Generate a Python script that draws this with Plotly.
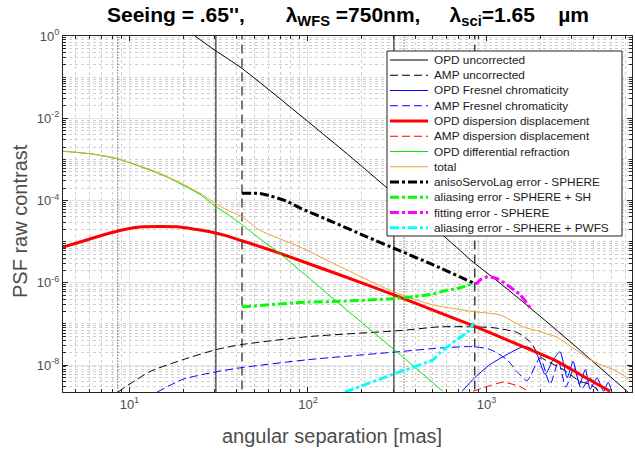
import plotly.graph_objects as go

# ---------------- data (angular separation in mas, PSF raw contrast) ----------------
sep_opd_unc = [23.3, 30.1, 42.7, 157, 270, 601, 841, 1146, 1754, 3057, 6126, 6530]
opd_unc = [1.0, 0.45, 0.163, 1.66e-3, 2.24e-4, 1.17e-5, 3.2e-6, 1.12e-6, 2.47e-7, 3.2e-8, 2.3e-9, 1.8e-9]

sep_amp_unc = [8.6, 13.0, 19.9, 30.9, 42.7, 100, 328, 549, 841, 1087, 1483, 1754, 1997, 2687, 3344, 3806, 4330]
amp_unc = [2.2e-9, 6.9e-9, 1.35e-8, 2.4e-8, 3.16e-8, 4.9e-8, 6.9e-8, 8.5e-8, 8.5e-8, 8.1e-8, 6.2e-8, 3.7e-8,
           1.6e-8, 7.8e-9, 4.0e-9, 3.4e-9, 2.3e-9]

sep_opd_fres = [730, 841, 1047, 1303, 1603, 1754, 1920, 2130, 2360, 2584, 2830, 3057, 3320, 3580, 3806, 4160,
                4530, 4800, 5030]
opd_fres = [2.3e-9, 4.5e-9, 1.03e-8, 1.8e-8, 2.8e-8, 2.6e-8, 1.78e-8, 5.9e-9, 1.35e-8, 2.1e-8, 4.9e-9, 1.23e-8,
            3.4e-9, 7.8e-9, 2.6e-9, 4.9e-9, 2.3e-9, 3.8e-9, 2.3e-9]

sep_amp_fres = [14.3, 19.9, 30.9, 42.7, 100, 319, 549, 841, 1047, 1303, 1483, 1688, 1997, 2271, 2530, 2780, 3100,
                3400, 3806, 4200]
amp_fres = [2.2e-9, 4.5e-9, 6.9e-9, 8.7e-9, 1.35e-8, 2.1e-8, 2.6e-8, 2.8e-8, 2.4e-8, 1.35e-8, 6.9e-9, 4.2e-9,
            1.5e-8, 3.4e-9, 1.23e-8, 2.9e-9, 8.7e-9, 2.6e-9, 4.9e-9, 2.3e-9]

sep_opd_disp = [4.24, 5.08, 6.25, 7.78, 9.68, 11.9, 14.8, 18.5, 22.7, 28.3, 35.2, 42.7, 53.8, 67.9, 145, 303, 549,
                841, 1603, 2485, 3344, 4925]
opd_disp = [7.4e-6, 9.3e-6, 1.23e-5, 1.63e-5, 2.04e-5, 2.29e-5, 2.33e-5, 2.29e-5, 2.04e-5, 1.74e-5, 1.38e-5,
            1.05e-5, 7.6e-6, 5.4e-6, 1.66e-6, 5.1e-7, 1.86e-7, 9.1e-8, 2.8e-8, 1.23e-8, 5.9e-9, 2.3e-9]

sep_amp_disp = [841, 1007, 1237, 1542, 1710]
amp_disp = [2.3e-9, 3.0e-9, 3.8e-9, 3.0e-9, 2.3e-9]

sep_opd_diffref = [4.24, 6.25, 8.62, 11.0, 14.3, 17.5, 21.0, 24.8, 30.1, 35.2, 42.7, 53.8, 67.9, 145, 303, 570]
opd_diffref = [1.58e-3, 1.34e-3, 1.02e-3, 7.2e-4, 4.7e-4, 3.2e-4, 2.1e-4, 1.42e-4, 7.4e-5, 4.7e-5, 2.6e-5,
               1.17e-5, 5.6e-6, 3.5e-7, 2.4e-8, 2.3e-9]

sep_total = [4.24, 6.25, 8.62, 11.0, 14.3, 17.5, 21.0, 24.8, 30.1, 35.2, 42.7, 53.8, 90.2, 145, 303, 501, 841,
             1191, 1355, 1603, 1997, 2485, 3057, 3806, 4330, 5122, 5745, 6530]
total = [1.6e-3, 1.35e-3, 1.04e-3, 7.3e-4, 4.9e-4, 3.3e-4, 2.25e-4, 1.5e-4, 8.7e-5, 5.9e-5, 4.0e-5, 1.9e-5,
         7.4e-6, 2.7e-6, 6.0e-7, 2.9e-7, 2.0e-7, 1.66e-7, 1.26e-7, 8.5e-8, 6.5e-8, 4.7e-8, 2.6e-8, 1.35e-8,
         1.03e-8, 7.8e-9, 5.9e-9, 4.0e-9]

sep_servo = [42.7, 53.8, 62.1, 75.3, 90.2, 138, 214, 328, 501, 841]
servo = [1.51e-4, 1.48e-4, 1.28e-4, 9.8e-5, 6.6e-5, 3.0e-5, 1.31e-5, 6.0e-6, 2.75e-6, 1.0e-6]

sep_alias_sh = [42.7, 100, 138, 299, 387, 501, 549, 711, 841]
alias_sh = [2.6e-7, 3.4e-7, 3.5e-7, 4.1e-7, 4.6e-7, 5.3e-7, 6.0e-7, 7.6e-7, 9.5e-7]

sep_fitting = [860, 885, 920, 1019, 1146, 1303, 1542, 1754]
fitting = [9.5e-7, 9.8e-7, 1.17e-6, 1.41e-6, 1.26e-6, 8.9e-7, 5.1e-7, 2.5e-7]

sep_alias_pwfs = [161, 328, 501, 549, 684, 778, 852]
alias_pwfs = [2.2e-9, 6.9e-9, 1.35e-8, 2.0e-8, 4.2e-8, 6.2e-8, 1.07e-7]

vline_dotted = [8.6, 345]
vline_solid = [30.5, 303]
vline_dashed = [42.7, 860]

x_tick_vals = [10, 100, 1000]
x_tick_text = ["10<sup>1</sup>", "10<sup>2</sup>", "10<sup>3</sup>"]
y_tick_vals = [1, 1e-2, 1e-4, 1e-6, 1e-8]
y_tick_text = ["10<sup>0</sup>", "10<sup>-2</sup>", "10<sup>-4</sup>", "10<sup>-6</sup>", "10<sup>-8</sup>"]

# ---------------- styles ----------------
ORANGE = "#f0a030"
DASH = "8px,4px"
DASHDOT = "9px,3px,3px,3px"
series = [
    ("OPD uncorrected", sep_opd_unc, opd_unc, "#000000", 1, "solid"),
    ("AMP uncorrected", sep_amp_unc, amp_unc, "#000000", 1, DASH),
    ("OPD Fresnel chromaticity", sep_opd_fres, opd_fres, "#0000ff", 1, "solid"),
    ("AMP Fresnel chromaticity", sep_amp_fres, amp_fres, "#0000ff", 1, DASH),
    ("OPD dispersion displacement", sep_opd_disp, opd_disp, "#ff0000", 3, "solid"),
    ("AMP dispersion displacement", sep_amp_disp, amp_disp, "#ff0000", 1, DASH),
    ("OPD differential refraction", sep_opd_diffref, opd_diffref, "#00e600", 1, "solid"),
    ("total", sep_total, total, ORANGE, 1, "solid"),
    ("anisoServoLag error - SPHERE", sep_servo, servo, "#000000", 3, DASHDOT),
    ("aliasing error - SPHERE + SH", sep_alias_sh, alias_sh, "#00ff00", 3, DASHDOT),
    ("fitting error - SPHERE", sep_fitting, fitting, "#ff00ff", 3, DASHDOT),
    ("aliasing error - SPHERE + PWFS", sep_alias_pwfs, alias_pwfs, "#00ffff", 3, DASHDOT),
]

W, H = 635, 449
ML, MR, MT, MB = 63, 3, 36, 57
PW, PH = W - ML - MR, H - MT - MB


def px(xp):
    return (xp - ML) / PW


def py(yp):
    return (H - MB - yp) / PH


fig = go.Figure()

# vertical reference lines
for v in vline_dotted:
    fig.add_trace(go.Scatter(x=[v, v], y=[1e-12, 10], mode="lines",
                             line=dict(color="#222222", width=1, dash="1px,2px"),
                             showlegend=False, hoverinfo="skip"))
for v in vline_solid:
    fig.add_trace(go.Scatter(x=[v, v], y=[1e-12, 10], mode="lines",
                             line=dict(color="#333333", width=1.2, dash="solid"),
                             showlegend=False, hoverinfo="skip"))
for i, v in enumerate(vline_dashed):
    fig.add_trace(go.Scatter(x=[v, v], y=[1e-12, 10], mode="lines",
                             line=dict(color="#555555" if i == 0 else "#111111", width=1.6 if i == 0 else 1.2,
                                       dash="9px,5px"),
                             showlegend=False, hoverinfo="skip"))

for name, xs, ys, col, w, d in series:
    fig.add_trace(go.Scatter(x=xs, y=ys, mode="lines", name=name,
                             line=dict(color=col, width=w, dash=d, shape="spline", smoothing=0.6),
                             showlegend=False, hoverinfo="skip"))

# ---------------- custom legend ----------------
shapes = [dict(type="rect", xref="paper", yref="paper", x0=px(387), x1=px(622), y0=py(236), y1=py(51),
               fillcolor="white", line=dict(color="#222222", width=1), layer="above")]
annotations = []
for i, (name, xs, ys, col, w, d) in enumerate(series):
    yc = 60 + 15.25 * i
    shapes.append(dict(type="line", xref="paper", yref="paper", x0=px(390), x1=px(428), y0=py(yc), y1=py(yc),
                       line=dict(color=col, width=w, dash=d), layer="above"))
    annotations.append(dict(text=name, xref="paper", yref="paper", x=px(432), y=py(yc), xanchor="left",
                            yanchor="middle", showarrow=False,
                            font=dict(size=11.8, color="#1a1a1a", family="Liberation Sans, Arial")))

# titles
annotations.append(dict(
    text="<b>Seeing = .65'',\u00a0\u00a0\u00a0\u00a0\u00a0\u00a0 λ<sub>WFS</sub> =750nm,\u00a0\u00a0\u00a0\u00a0 "
         "λ<sub>sci</sub>=1.65\u00a0\u00a0\u00a0 µm</b>",
    xref="paper", yref="paper", x=0.5, y=py(16), xanchor="center", yanchor="middle", showarrow=False,
    font=dict(size=21, color="#000000", family="Liberation Sans, Arial")))
annotations.append(dict(text="angular separation [mas]", xref="paper", yref="paper", x=px(332), y=py(436),
                        xanchor="center", yanchor="middle", showarrow=False,
                        font=dict(size=20, color="#4d4d4d", family="Liberation Sans, Arial")))
annotations.append(dict(text="PSF raw contrast", xref="paper", yref="paper", x=px(20), y=py(221),
                        xanchor="center", yanchor="middle", showarrow=False, textangle=-90,
                        font=dict(size=20, color="#4d4d4d", family="Liberation Sans, Arial")))

x_minor = [k * 10 ** n for n in range(0, 4) for k in range(2, 10)]
y_minor = [k * 10.0 ** n for n in range(-9, 0) for k in range(1, 10) if not (k == 1 and n % 2 == 0)]

axis_common = dict(type="log", showline=True, linecolor="#262626", linewidth=1, mirror="ticks",
                   ticks="inside", ticklen=5, tickcolor="#262626", tickmode="array",
                   showgrid=True, gridcolor="#e4e4e4", gridwidth=1, zeroline=False,
                   tickfont=dict(size=13, color="#4d4d4d", family="Liberation Sans, Arial"))

fig.update_layout(
    width=W, height=H, margin=dict(l=ML, r=MR, t=MT, b=MB, pad=0),
    paper_bgcolor="white", plot_bgcolor="white", showlegend=False,
    xaxis=dict(axis_common, range=[0.628, 3.815], tickvals=x_tick_vals, ticktext=x_tick_text,
               minor=dict(tickmode="array", tickvals=x_minor, ticks="inside", ticklen=3, tickcolor="#262626",
                          showgrid=True, griddash="dot", gridcolor="#cfcfcf")),
    yaxis=dict(axis_common, range=[-8.655, 0], tickvals=y_tick_vals, ticktext=y_tick_text,
               minor=dict(tickmode="array", tickvals=y_minor, ticks="inside", ticklen=3, tickcolor="#262626",
                          showgrid=True, griddash="dot", gridcolor="#cfcfcf")),
    shapes=shapes, annotations=annotations,
)

fig.write_html("out.html")
